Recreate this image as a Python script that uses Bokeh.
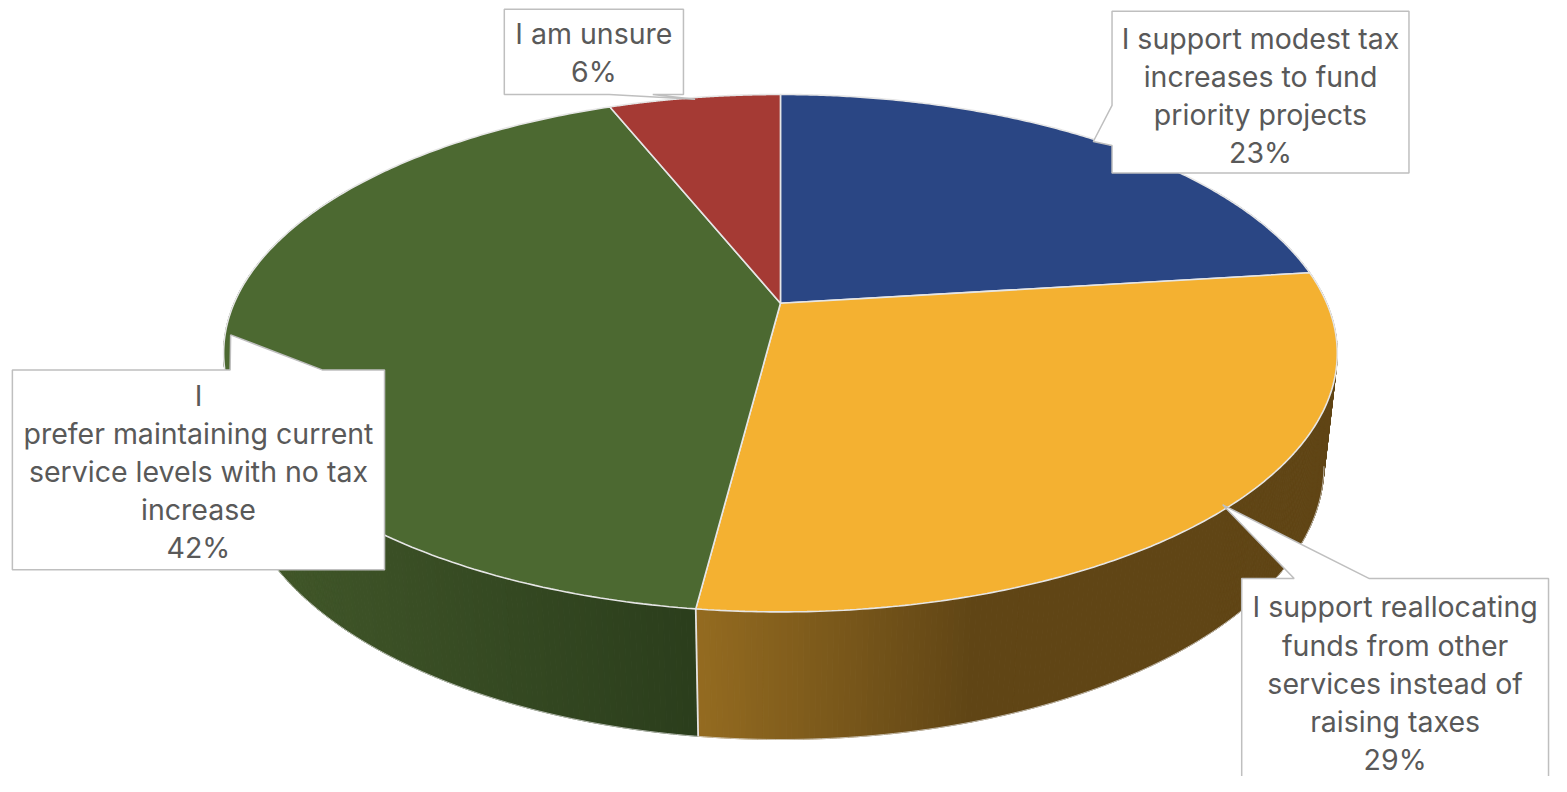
import numpy as np
from bokeh.plotting import figure
from bokeh.models import Range1d
from bokeh.embed import file_html
from bokeh.resources import INLINE
from bokeh.core.properties import value

# ---------------- data ----------------
categories = [
    "I support modest tax increases to fund priority projects",
    "I support reallocating funds from other services instead of raising taxes",
    "I prefer maintaining current service levels with no tax increase",
    "I am unsure",
]
shares = [23, 29, 42, 6]
label_lines = [
    ["I support modest tax", "increases to fund", "priority projects"],
    ["I support reallocating", "funds from other", "services instead of", "raising taxes"],
    ["I", "prefer maintaining current", "service levels with no tax", "increase"],
    ["I am unsure"],
]
top_colors = ["#2A4684", "#F4B131", "#4C6931", "#A53A34"]
side_light = ["#1E3360", "#946B20", "#43592A", "#76292A"]
side_dark = ["#15244A", "#604515", "#2B3E1C", "#561E1E"]
# fraction of each slice's visible side width over which the shade ramps
ramp_frac = [1.0, 0.43, 1.0, 1.0]

# ---------------- layout / projection ----------------
W, H = 1551, 776
CX, CY = 788.0, 309.0      # apex of the pie (reference pixel space)
FR = 552.0                 # horizontal radius scale at centre depth
K = 0.193                  # perspective strength
SIN_P, COS_P = 0.4605, 0.8876
THICK = 0.236              # thickness relative to radius
DIST = COS_P / K

def proj(theta, r=1.0, z=0.0):
    x3 = r * np.sin(theta)
    y3 = r * np.cos(theta)
    d = DIST + y3 * COS_P - z * SIN_P
    X = CX + FR * DIST * x3 / d
    Yup = FR * DIST * (y3 * SIN_P + z * COS_P) / d
    return X, CY - Yup

p = figure(width=W, height=H, x_range=Range1d(0, 1567), y_range=Range1d(792, 0),
           output_backend="svg", toolbar_location=None,
           x_axis_location=None, y_axis_location=None, min_border=0)
p.grid.visible = False
p.outline_line_color = None
p.background_fill_color = "white"
p.border_fill_color = "white"

total = float(sum(shares))
fr = np.cumsum([0] + shares) / total
starts = 2 * np.pi * fr[:-1]
ends = 2 * np.pi * fr[1:]

def hex2rgb(h):
    h = h.lstrip("#")
    return np.array([int(h[i:i + 2], 16) for i in (0, 2, 4)], dtype=float)

def mix(c1, c2, t):
    c = hex2rgb(c1) * (1 - t) + hex2rgb(c2) * t
    return "#%02x%02x%02x" % tuple(int(round(v)) for v in c)

# ---------------- sides ----------------
th_all = np.radians(np.arange(60, 300.01, 0.5))
def slice_of(th):
    for i in range(len(shares)):
        if starts[i] <= th < ends[i]:
            return i
    return len(shares) - 1

extent = {}
for th in th_all:
    if np.cos(th) < -0.19 or abs(np.sin(th)) > 0.98:
        i = slice_of(th)
        x, _ = proj(th)
        lo, hi = extent.get(i, (x, x))
        extent[i] = (min(lo, x), max(hi, x))

strips = []
for a, b in zip(th_all[:-1], th_all[1:]):
    bnd = [a, b]
    for s in ends[:-1]:
        if a < s < b:
            bnd = [a, s, b]
    for a2, b2 in zip(bnd[:-1], bnd[1:]):
        m2 = 0.5 * (a2 + b2)
        j = slice_of(m2)
        x1t, y1t = proj(a2)
        x2t, y2t = proj(b2)
        x1b, y1b = proj(a2, 1.0, -THICK)
        x2b, y2b = proj(b2, 1.0, -THICK)
        xm = 0.25 * (x1t + x2t + x1b + x2b)
        lo, hi = extent.get(j, (xm, xm + 1))
        span = max(hi - lo, 1.0) * ramp_frac[j]
        t = min(max((xm - lo) / span, 0.0), 1.0)
        col = mix(side_light[j], side_dark[j], t)
        strips.append((np.cos(m2), [x1t, x2t, x2b, x1b], [y1t, y2t, y2b, y1b], col))

strips.sort(key=lambda s: -s[0])
p.patches([s[1] for s in strips], [s[2] for s in strips],
          fill_color=[s[3] for s in strips], line_color=[s[3] for s in strips],
          line_width=1)

# bottom rim highlight
front = np.radians(np.linspace(101, 259, 200))
bx, by = proj(front, 1.0, -THICK)
p.line(bx, by, line_color="#E8E8E8", line_width=1, line_alpha=0.7)

# vertical edges at boundaries in front
for s in ends[:-1]:
    if np.cos(s) < -0.2:
        x0, y0 = proj(s)
        x1, y1 = proj(s, 1.0, -THICK)
        p.line([x0, x1], [y0, y1], line_color="#E3E3E3", line_width=1.8)

# ---------------- top faces ----------------
for i in range(len(shares)):
    th = np.linspace(starts[i], ends[i], 200)
    ax, ay = proj(th)
    xs = np.concatenate([[CX], ax])
    ys = np.concatenate([[CY], ay])
    p.patch(xs, ys, fill_color=top_colors[i], line_color="#E6E6E6", line_width=1.6)

# ---------------- callouts ----------------
boxes = [(1123, 11, 1423, 176), (1254, 590, 1564, 800), (12, 377, 388, 581), (509, 9, 690, 96)]
pointer = [("left", 107, 148), ("top", 1307, 1383), ("top", 232, 325), ("bottom", 615, 659)]
first_base = [39, 619, 403, 34]
LINE_STEP = 38.8

def callout(box, side, ba, bb, tip):
    x0, y0, x1, y1 = box
    if side == "bottom":
        pts = [(x0, y0), (x1, y0), (x1, y1), (bb, y1), tip, (ba, y1), (x0, y1)]
    elif side == "top":
        pts = [(x0, y0), (ba, y0), tip, (bb, y0), (x1, y0), (x1, y1), (x0, y1)]
    else:
        pts = [(x0, y0), (x1, y0), (x1, y1), (x0, y1), (x0, bb), tip, (x0, ba)]
    return [q[0] for q in pts], [q[1] for q in pts]

for i in range(len(shares)):
    mid = 0.5 * (starts[i] + ends[i])
    tip = proj(mid, 0.99)
    xs, ys = callout(boxes[i], *pointer[i], tip)
    p.patch(xs, ys, fill_color="white", line_color="#BFBFBF", line_width=1.5)
    lines = label_lines[i] + ["%d%%" % shares[i]]
    cxb = 0.5 * (boxes[i][0] + boxes[i][2])
    yb = [first_base[i] + k * LINE_STEP for k in range(len(lines))]
    p.text(x=[cxb] * len(lines), y=yb, text=lines, text_align="center",
           text_baseline="alphabetic", text_font=value("Inter"),
           text_font_size="28.5px", text_color="#595959")

open("out.html", "w").write(file_html(p, INLINE))
